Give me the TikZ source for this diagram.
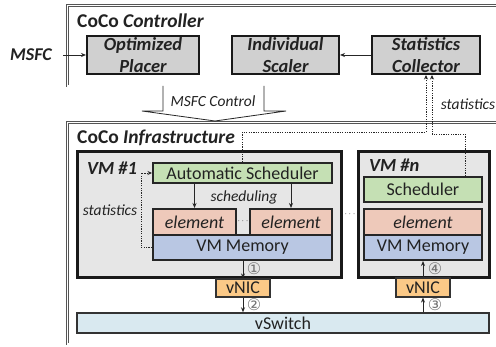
\documentclass[tikz,border=0pt]{standalone}
\usepackage{fontspec}
\setmainfont{Carlito}
\newfontfamily\symfont{DejaVu Sans}
\usetikzlibrary{arrows.meta}
\definecolor{ctrlgray}{HTML}{D0D0D0}
\definecolor{vmgray}{HTML}{E6E6E6}
\definecolor{schedgreen}{HTML}{C5E0B4}
\definecolor{elsalmon}{HTML}{EEC9BA}
\definecolor{memblue}{HTML}{B9C7E3}
\definecolor{nicorange}{HTML}{FBC987}
\definecolor{swblue}{HTML}{D9E9F0}
\definecolor{framegray}{HTML}{555555}
\definecolor{txt}{HTML}{222222}
\begin{document}
\begin{tikzpicture}[x=1pt,y=-1pt,
  every node/.style={text=txt},
  frame/.style={draw=framegray,line width=0.7pt,double=white,double distance=1.1pt},
  ctrlbox/.style={draw=black!90,line width=2pt,fill=ctrlgray,inner sep=0pt,align=center,
    font=\fontsize{18.5}{22}\selectfont\bfseries\itshape},
  vmbox/.style={draw=black!90,line width=3pt,fill=vmgray,inner sep=0pt},
  cbox/.style={draw=black!85,line width=2pt,inner sep=0pt,font=\fontsize{18}{20}\selectfont},
  nicbox/.style={draw=black!80,line width=1.2pt,fill=nicorange,inner sep=0pt,font=\fontsize{18}{20}\selectfont},
  arr/.style={-{Stealth[length=5pt,width=4pt]},line width=0.9pt,draw=black!85},
  dotarr/.style={-{Stealth[length=4.5pt,width=4pt]},line width=0.9pt,draw=black!85,dash pattern=on 1.2pt off 1.2pt},
  itl/.style={font=\fontsize{15.5}{17}\selectfont\itshape,inner sep=0pt},
  head/.style={font=\fontsize{19.5}{21}\selectfont\bfseries,inner sep=0pt,anchor=base west},
  circnum/.style={font=\fontsize{16}{16}\selectfont\symfont,text=black!55,inner sep=0pt},
  dots/.style={font=\fontsize{9}{10}\selectfont,inner sep=0pt}
]
\useasboundingbox (0,0) rectangle (496,347);
\clip (0,0) rectangle (496,347);
\fill[white] (0,0) rectangle (496,347);

% frames
\draw[frame] (67.3,5.3) rectangle (520,86);
\draw[frame] (67.3,122.5) rectangle (520,344);
\node[head] (ctrltitle) at (77,27.3) {CoCo \itshape Controller};
\node[head] (infratitle) at (77,144) {CoCo \itshape Infrastructure};

% controller boxes
\node[ctrlbox,minimum width=112pt,minimum height=38pt] (placer) at (143,55) {Optimized\\Placer};
\node[ctrlbox,minimum width=107pt,minimum height=38pt] (scaler) at (285.5,55) {Individual\\Scaler};
\node[ctrlbox,minimum width=108pt,minimum height=38pt] (collector) at (426,55) {Statistics\\Collector};
\node[font=\fontsize{18}{20}\selectfont\bfseries\itshape,inner sep=0pt] (msfc) at (31,55) {MSFC};
\coordinate (msfcstart) at (63,55);
\draw[arr] (msfcstart) -- (placer.west);
\draw[arr] (collector.west) -- (scaler.east);

% big arrow
\draw[line width=0.8pt,draw=black!85] (163,86) -- (163,111) -- (142,111) -- (215,121) -- (286,111) -- (264,111) -- (264,86);
\node[itl] (msfcctl) at (213,101) {MSFC Control};
\node[itl] (statsright) at (468,104) {statistics};

% VMs
\node[vmbox,minimum width=264pt,minimum height=126pt] (vm1) at (209,215) {};
\node[vmbox,minimum width=131pt,minimum height=126pt] (vmn) at (423.5,215) {};
\node[head,font=\fontsize{18.5}{21}\selectfont\bfseries\itshape] (vm1lbl) at (87,175) {VM \#1};
\node[head,font=\fontsize{18.5}{21}\selectfont\bfseries\itshape] (vmnlbl) at (369,172) {VM \#n};

\node[cbox,fill=schedgreen,minimum width=179pt,minimum height=20pt] (autosched) at (242.5,173) {Automatic Scheduler};
\node[cbox,fill=elsalmon,minimum width=83pt,minimum height=26pt,font=\fontsize{18}{20}\selectfont\itshape] (el1) at (194.5,222) {element};
\node[cbox,fill=elsalmon,minimum width=82pt,minimum height=26pt,font=\fontsize{18}{20}\selectfont\itshape] (el2) at (291,222) {element};
\node[cbox,fill=memblue,minimum width=179pt,minimum height=25pt] (mem1) at (242.5,247.5) {VM Memory};

\node[cbox,fill=schedgreen,minimum width=118pt,minimum height=25pt] (schedn) at (423,189.5) {Scheduler};
\node[cbox,fill=elsalmon,minimum width=118pt,minimum height=26pt,font=\fontsize{18}{20}\selectfont\itshape] (eln) at (423,222) {element};
\node[cbox,fill=memblue,minimum width=118pt,minimum height=25pt] (memn) at (423,247.5) {VM Memory};

\node[dots] (dots1) at (243,221) {$\cdots$};
\node[dots] (dots2) at (350,214) {$\cdots$};

\draw[arr] (el1.north |- autosched.south) -- (el1.north);
\draw[arr] (el2.north |- autosched.south) -- (el2.north);
\node[itl] (schedlbl) at (244,197) {scheduling};

% statistics VM1
\node[itl] (statsleft) at (110,210) {statistics};
\draw[dotarr] (mem1.west) -- ++(-11,0) |- (autosched.west);

% statistics to collector
\coordinate (k1) at (426,132);
\coordinate (k2) at (465,134);
\coordinate (k3) at (432,134);
\draw[dotarr] (autosched.north) |- (k1) -- (k1 |- collector.south);
\draw[dotarr] (k2 |- schedn.north) -- (k2) -- (k3) -- (k3 |- collector.south);

% vNICs and vSwitch
\node[nicbox,minimum width=54pt,minimum height=18pt] (vnic1) at (243,288) {vNIC};
\node[nicbox,minimum width=54pt,minimum height=19pt] (vnicn) at (423,287.5) {vNIC};
\node[draw=black!80,line width=1.4pt,fill=swblue,inner sep=0pt,minimum width=412pt,minimum height=20pt,font=\fontsize{18}{20}\selectfont] (vswitch) at (283,323) {vSwitch};

\draw[arr] (mem1.south -| vnic1.north) -- (vnic1.north);
\draw[arr] (vnic1.south) -- (vnic1.south |- vswitch.north);
\draw[arr] (vswitch.north -| vnicn.south) -- (vnicn.south);
\draw[arr] (vnicn.north) -- (vnicn.north |- memn.south);

\node[circnum] (n1) at (254,269) {①};
\node[circnum] (n2) at (254,305) {②};
\node[circnum] (n3) at (435,305) {③};
\node[circnum] (n4) at (435,269) {④};
\end{tikzpicture}
\end{document}
